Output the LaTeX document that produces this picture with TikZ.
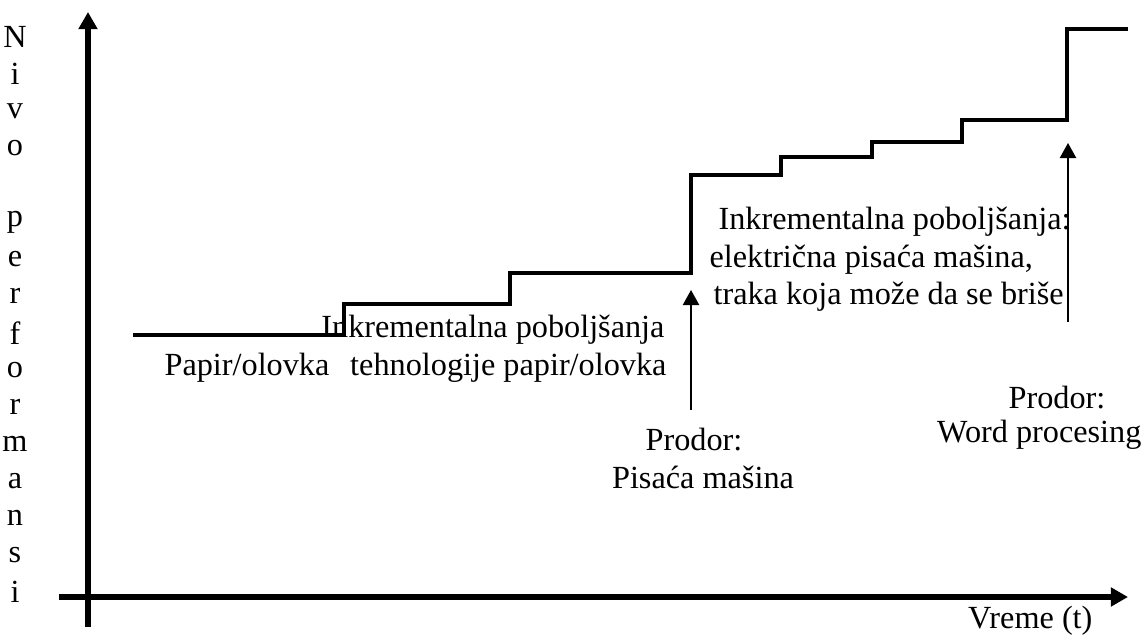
\documentclass[tikz,border=0pt]{standalone}
\usepackage{fontspec}
\setmainfont{Liberation Serif}
\usetikzlibrary{arrows.meta}
\begin{document}
\begin{tikzpicture}[x=0.372pt,y=-0.372pt,
  lbl/.style={inner sep=0pt, font=\fontsize{12}{13.8}\selectfont},
  axis/.style={line width=2.3pt, -{Triangle[length=6.4pt,width=6.8pt]}},
  pointer/.style={line width=0.75pt, -{Triangle[length=5.6pt,width=6pt]}},
  stepline/.style={line width=1.5pt, line join=miter}]
\useasboundingbox (0,0) rectangle (1141,636);

% axes
\coordinate (ybot) at (88,627);
\coordinate (ytop) at (88,12);
\coordinate (xleft) at (59,597);
\coordinate (xright) at (1128,597);
\draw[axis] (ybot) -- (ytop);
\draw[axis] (xleft) -- (xright);

% vertical axis label, one letter per line
\foreach \ch [count=\k from 0] in {N,i,v,o,{},p,e,r,f,o,r,m,a,n,s,i}
  \node[lbl] (ylab\k) at (15,37+37*\k) {\ch};

\node[lbl, anchor=east] (xlab) at (1093,621) {Vreme (t)};

% performance level over time
\draw[stepline] (133,335) -- (344,335) -- (344,304) -- (510,304) -- (510,273)
  -- (691,273) -- (691,175) -- (781,175) -- (781,157) -- (872,157) -- (872,142)
  -- (962,142) -- (962,120) -- (1067,120) -- (1067,29) -- (1128,29);

% breakthrough pointers
\coordinate (p1a) at (691,410);
\coordinate (p1b) at (691,290);
\coordinate (p2a) at (1068,322);
\coordinate (p2b) at (1068,143);
\draw[pointer] (p1a) -- (p1b);
\draw[pointer] (p2a) -- (p2b);

% labels
\node[lbl] (papir) at (247,368) {Papir/olovka};
\node[lbl, anchor=east] (ink1a) at (665,330) {Inkrementalna poboljšanja};
\node[lbl, anchor=east] (ink1b) at (667,368) {tehnologije papir/olovka};

\node[lbl] (prod1a) at (694,440) {Prodor:};
\node[lbl] (prod1b) at (703,477) {Pisaća mašina};

\node[lbl, anchor=west] (ink2a) at (718,222) {Inkrementalna poboljšanja:};
\node[lbl, anchor=west] (ink2b) at (709,260) {električna pisaća mašina,};
\node[lbl, anchor=west] (ink2c) at (713,297) {traka koja može da se briše};

\node[lbl] (prod2a) at (1057,398) {Prodor:};
\node[lbl, anchor=east] (prod2b) at (1142,435) {Word procesing};
\end{tikzpicture}
\end{document}
